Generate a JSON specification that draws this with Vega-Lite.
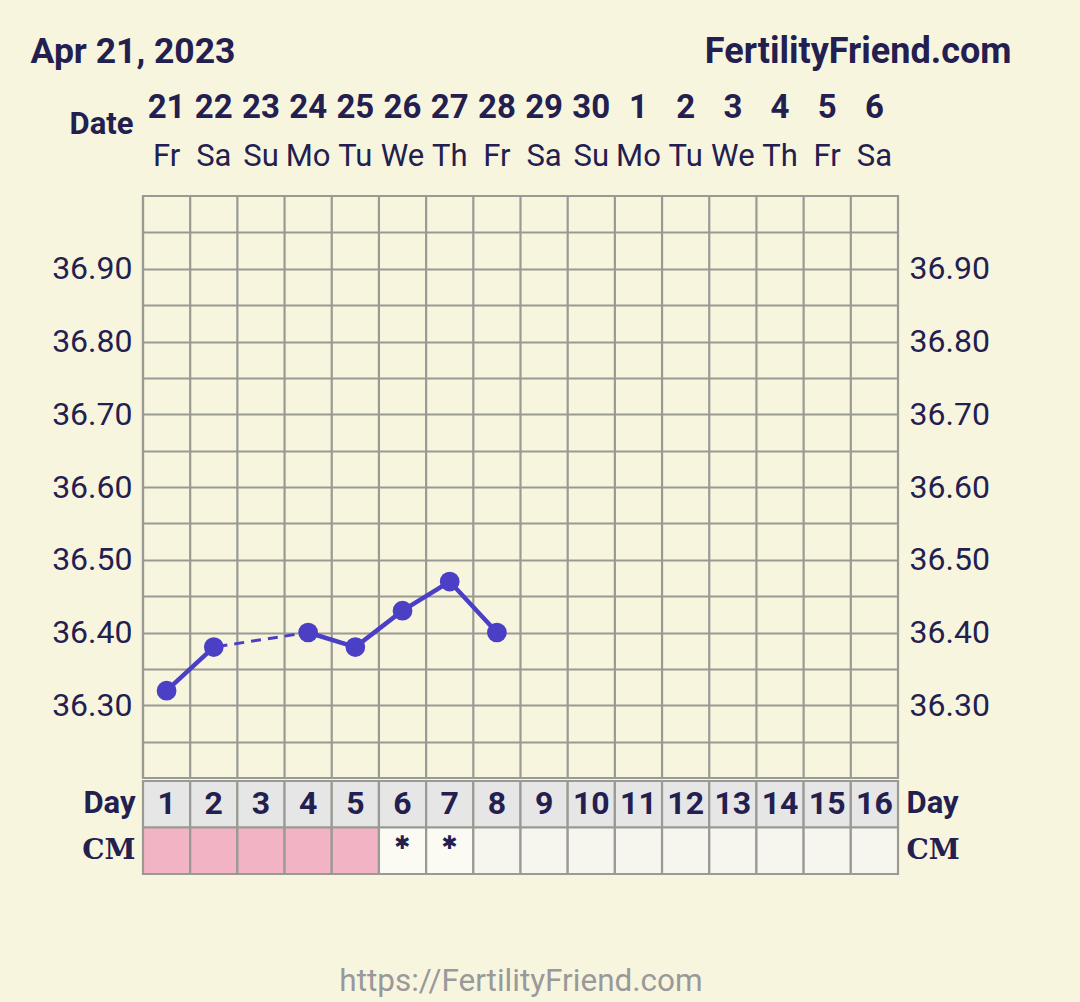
{
  "$schema": "https://vega.github.io/schema/vega-lite/v6.json",
  "background": "#f8f5df",
  "padding": {"left": 30, "right": 70, "top": 27, "bottom": 8},
  "spacing": -3,
  "datasets": {
    "days": [
      {"day": 1, "date": "21", "dow": "Fr", "temp": 36.32, "cm": "M"},
      {"day": 2, "date": "22", "dow": "Sa", "temp": 36.38, "cm": "M"},
      {"day": 3, "date": "23", "dow": "Su", "temp": null, "cm": "M"},
      {"day": 4, "date": "24", "dow": "Mo", "temp": 36.40, "cm": "M"},
      {"day": 5, "date": "25", "dow": "Tu", "temp": 36.38, "cm": "M"},
      {"day": 6, "date": "26", "dow": "We", "temp": 36.43, "cm": "*"},
      {"day": 7, "date": "27", "dow": "Th", "temp": 36.47, "cm": "*"},
      {"day": 8, "date": "28", "dow": "Fr", "temp": 36.40, "cm": "none"},
      {"day": 9, "date": "29", "dow": "Sa", "temp": null, "cm": "none"},
      {"day": 10, "date": "30", "dow": "Su", "temp": null, "cm": "none"},
      {"day": 11, "date": "1", "dow": "Mo", "temp": null, "cm": "none"},
      {"day": 12, "date": "2", "dow": "Tu", "temp": null, "cm": "none"},
      {"day": 13, "date": "3", "dow": "We", "temp": null, "cm": "none"},
      {"day": 14, "date": "4", "dow": "Th", "temp": null, "cm": "none"},
      {"day": 15, "date": "5", "dow": "Fr", "temp": null, "cm": "none"},
      {"day": 16, "date": "6", "dow": "Sa", "temp": null, "cm": "none"}
    ]
  },
  "config": {
    "font": "Roboto",
    "view": {"stroke": null},
    "axis": {"labelColor": "#23204f", "labelFont": "Roboto", "domain": false, "ticks": false, "title": null}
  },
  "vconcat": [
    {
      "width": 755,
      "height": 169,
      "data": {"name": "days"},
      "layer": [
        {
          "mark": {"type": "text", "fontSize": 33, "fontWeight": "bold", "color": "#23204f", "dy": 5},
          "encoding": {
            "x": {"field": "day", "type": "ordinal", "scale": {"paddingInner": 0, "paddingOuter": 0}, "axis": null},
            "y": {
              "datum": "date", "type": "ordinal",
              "scale": {"type": "point", "domain": ["title", "date", "dow"], "padding": 0.58, "align": 0.37},
              "axis": {"labelExpr": "datum.value == 'date' ? 'Date' : ''", "labelFontSize": 31, "labelFontWeight": "bold", "labelPadding": 10, "labelOffset": 21, "grid": false}
            },
            "text": {"field": "date"}
          }
        },
        {
          "mark": {"type": "text", "fontSize": 31, "color": "#23204f"},
          "encoding": {
            "x": {"field": "day", "type": "ordinal"},
            "y": {"datum": "dow", "type": "ordinal"},
            "text": {"field": "dow"}
          }
        },
        {
          "data": {"values": [{"label": "Apr 21, 2023"}]},
          "mark": {"type": "text", "align": "left", "fontSize": 35.5, "fontWeight": "bold", "color": "#23204f", "dx": -136, "dy": 2},
          "encoding": {
            "x": {"datum": 1, "type": "ordinal"},
            "y": {"datum": "title", "type": "ordinal"},
            "text": {"field": "label"}
          }
        },
        {
          "data": {"values": [{"label": "FertilityFriend.com"}]},
          "mark": {"type": "text", "align": "right", "fontSize": 36, "fontWeight": "bold", "color": "#23204f", "dx": 137, "dy": 2},
          "encoding": {
            "x": {"datum": 16, "type": "ordinal"},
            "y": {"datum": "title", "type": "ordinal"},
            "text": {"field": "label"}
          }
        }
      ]
    },
    {
      "width": 755,
      "height": 582,
      "view": {"stroke": "#9a9a94", "strokeWidth": 2.2},
      "data": {"name": "days"},
      "layer": [
        {
          "mark": {"type": "rule", "color": "#9a9a94", "strokeWidth": 2.2},
          "encoding": {
            "x": {"field": "day", "type": "ordinal", "bandPosition": 0, "scale": {"paddingInner": 0, "paddingOuter": 0}, "axis": null}
          }
        },
        {
          "transform": [{"filter": "isValid(datum.temp)"}],
          "mark": {"type": "line", "strokeDash": [10, 7], "strokeWidth": 3, "color": "#4b3fc6"},
          "encoding": {
            "x": {"field": "day", "type": "ordinal"},
            "y": {
              "field": "temp", "type": "quantitative",
              "scale": {"domain": [36.2, 37.0], "nice": false, "zero": false},
              "axis": {
                "values": [36.25, 36.3, 36.35, 36.4, 36.45, 36.5, 36.55, 36.6, 36.65, 36.7, 36.75, 36.8, 36.85, 36.9, 36.95],
                "labelExpr": "(round(datum.value * 20) % 2 == 0) ? format(datum.value, '.2f') : ''",
                "grid": true, "gridColor": "#9a9a94", "gridWidth": 2.2, "gridOpacity": 1,
                "labelFontSize": 32, "labelPadding": 11
              }
            }
          }
        },
        {
          "mark": {"type": "line", "strokeWidth": 4.5, "color": "#4b3fc6", "invalid": "break-paths-show-domains"},
          "encoding": {
            "x": {"field": "day", "type": "ordinal"},
            "y": {
              "field": "temp", "type": "quantitative",
              "axis": {"orient": "right", "values": [36.3, 36.4, 36.5, 36.6, 36.7, 36.8, 36.9], "format": ".2f", "grid": false, "labelFontSize": 32, "labelPadding": 11}
            }
          }
        },
        {
          "transform": [{"filter": "isValid(datum.temp)"}],
          "mark": {"type": "circle", "size": 390, "opacity": 1, "color": "#4b3fc6"},
          "encoding": {
            "x": {"field": "day", "type": "ordinal"},
            "y": {"field": "temp", "type": "quantitative", "axis": null}
          }
        }
      ],
      "resolve": {"axis": {"y": "independent"}}
    },
    {
      "width": 755,
      "height": 93,
      "data": {"name": "days"},
      "encoding": {
        "x": {
          "field": "day", "type": "ordinal",
          "scale": {"paddingInner": 0, "paddingOuter": 0},
          "axis": {"labels": false, "grid": false, "title": "https://FertilityFriend.com", "titleFontSize": 31.5, "titleColor": "#999999", "titleFontWeight": "normal", "titleFont": "Roboto", "titlePadding": 91}
        }
      },
      "layer": [
        {
          "mark": {"type": "rect", "fill": "#e6e6e6", "stroke": "#9a9a94", "strokeWidth": 2.2},
          "encoding": {
            "y": {
              "datum": "Day", "type": "nominal",
              "scale": {"domain": ["Day", "CM"], "paddingInner": 0, "paddingOuter": 0},
              "axis": {
                "labelFontSize": {"condition": {"test": "datum.value == 'CM'", "value": 28}, "value": 31},
                "labelFontWeight": "bold", "labelPadding": 8,
                "labelFont": {"condition": {"test": "datum.value == 'CM'", "value": "DejaVu Serif"}, "value": "Roboto"}
              }
            }
          }
        },
        {
          "mark": {"type": "rect", "stroke": "#9a9a94", "strokeWidth": 2.2},
          "encoding": {
            "y": {
              "datum": "CM", "type": "nominal",
              "axis": {
                "orient": "right",
                "labelFontSize": {"condition": {"test": "datum.value == 'CM'", "value": 28}, "value": 31},
                "labelFontWeight": "bold", "labelPadding": 8,
                "labelFont": {"condition": {"test": "datum.value == 'CM'", "value": "DejaVu Serif"}, "value": "Roboto"}
              }
            },
            "fill": {"field": "cm", "type": "nominal", "scale": {"domain": ["M", "*", "none"], "range": ["#f2b3c4", "#fbfaf3", "#f6f6ee"]}, "legend": null}
          }
        },
        {
          "mark": {"type": "text", "fontSize": 32, "fontWeight": "bold", "color": "#23204f"},
          "encoding": {
            "y": {"datum": "Day", "type": "nominal", "axis": null},
            "text": {"field": "day"}
          }
        },
        {
          "transform": [{"filter": "datum.cm == '*'"}],
          "mark": {"type": "text", "font": "DejaVu Sans", "fontSize": 19, "color": "#23204f", "dy": -8},
          "encoding": {
            "y": {"datum": "CM", "type": "nominal", "axis": null},
            "text": {"value": "✱"}
          }
        }
      ],
      "resolve": {"axis": {"y": "independent"}}
    }
  ]
}
